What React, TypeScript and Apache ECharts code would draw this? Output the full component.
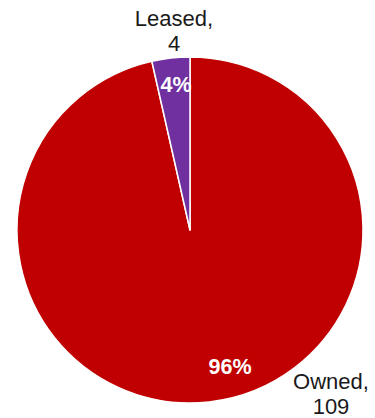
import React, { useEffect, useRef } from "react";
import * as echarts from "echarts";

const categories = ["Owned", "Leased"];
const values = [109, 4];
const colors = ["#C00000", "#7030A0"];
// label anchor positions (px) for outer name/value labels and inner percent labels
const outerLabelPos = [
  [331, 394],
  [174, 31],
];
const innerLabelPos = [
  [230, 367],
  [176, 85],
];

export default function App() {
  const ref = useRef<HTMLDivElement>(null);
  useEffect(() => {
    const chart = echarts.init(ref.current!, null, { renderer: "svg" });
    const data = categories.map((c, i) => ({
      name: c,
      value: values[i],
      itemStyle: { color: colors[i] },
    }));
    chart.setOption({
      animation: false,
      series: [
        {
          type: "pie",
          center: [190, 230],
          radius: 173,
          startAngle: 90,
          clockwise: true,
          percentPrecision: 0,
          silent: true,
          data,
          itemStyle: { borderColor: "#ffffff", borderWidth: 1.5 },
          label: {
            show: true,
            position: "inside",
            formatter: "{d}%",
            color: "#ffffff",
            fontWeight: "bold",
            fontSize: 21.5,
            fontFamily: "Liberation Sans, Arial, sans-serif",
          },
          labelLine: { show: false },
          labelLayout: (p: any) => ({
            x: innerLabelPos[p.dataIndex][0],
            y: innerLabelPos[p.dataIndex][1],
            align: "center",
            verticalAlign: "middle",
          }),
        },
        {
          type: "pie",
          center: [190, 230],
          radius: 173,
          startAngle: 90,
          clockwise: true,
          silent: true,
          data: categories.map((c, i) => ({ name: c, value: values[i] })),
          itemStyle: { color: "rgba(0,0,0,0)", borderWidth: 0 },
          label: {
            show: true,
            position: "outside",
            formatter: "{b},\n{c}",
            color: "#1a1a1a",
            fontSize: 22,
            lineHeight: 25,
            align: "center",
            fontFamily: "Liberation Sans, Arial, sans-serif",
          },
          labelLine: { show: false },
          labelLayout: (p: any) => ({
            x: outerLabelPos[p.dataIndex][0],
            y: outerLabelPos[p.dataIndex][1],
            align: "center",
            verticalAlign: "middle",
          }),
        },
      ],
    });
    return () => chart.dispose();
  }, []);
  return (
    <div
      ref={ref}
      style={{ position: "fixed", left: 0, top: 0, width: 375, height: 418, background: "#fff" }}
    />
  );
}
